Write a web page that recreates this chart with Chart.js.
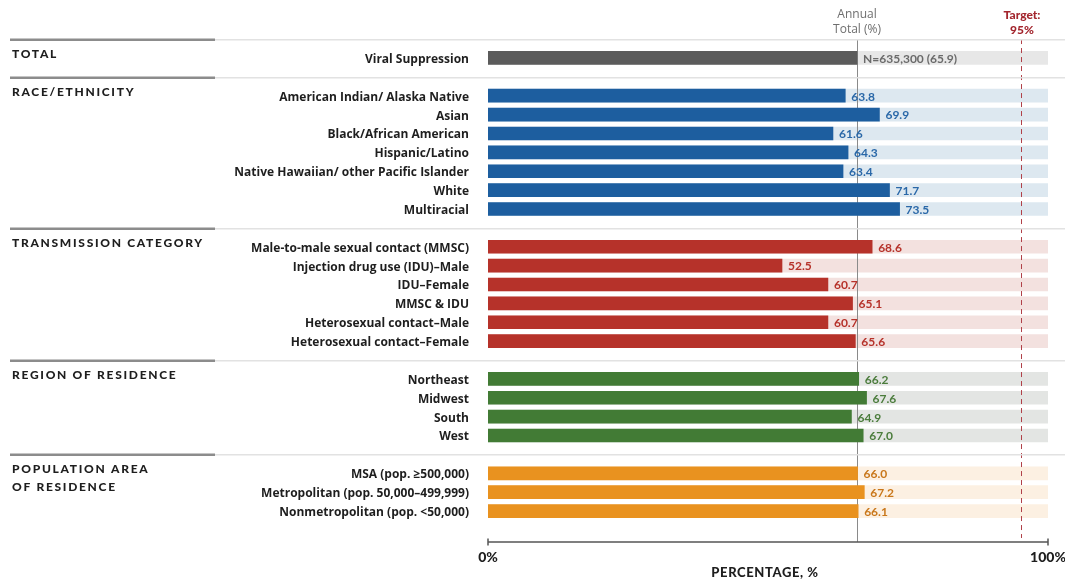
<!DOCTYPE html>
<html>
<head>
<meta charset="utf-8">
<script src="https://cdn.jsdelivr.net/npm/chart.js@4/dist/chart.umd.min.js"></script>
<style>
  html, body { margin: 0; padding: 0; background: #fff; }
  #wrap { width: 1065px; height: 580px; }
</style>
</head>
<body>
<div id="wrap"><canvas id="c" width="1065" height="580"></canvas></div>
<script>
// ---- data ----
const totalLabels = ['Viral Suppression'];
const totalValues = [65.9];
const totalCount = 'N=635,300';

const raceLabels = ['American Indian/ Alaska Native', 'Asian', 'Black/African American', 'Hispanic/Latino',
  'Native Hawaiian/ other Pacific Islander', 'White', 'Multiracial'];
const raceValues = [63.8, 69.9, 61.6, 64.3, 63.4, 71.7, 73.5];

const transmissionLabels = ['Male-to-male sexual contact (MMSC)', 'Injection drug use (IDU)\u2013Male', 'IDU\u2013Female',
  'MMSC & IDU', 'Heterosexual contact\u2013Male', 'Heterosexual contact\u2013Female'];
const transmissionValues = [68.6, 52.5, 60.7, 65.1, 60.7, 65.6];

const regionLabels = ['Northeast', 'Midwest', 'South', 'West'];
const regionValues = [66.2, 67.6, 64.9, 67.0];

const areaLabels = ['MSA (pop. \u2265500,000)', 'Metropolitan (pop. 50,000\u2013499,999)', 'Nonmetropolitan (pop. <50,000)'];
const areaValues = [66.0, 67.2, 66.1];

const groupTitles = [['TOTAL'], ['RACE/ETHNICITY'], ['TRANSMISSION CATEGORY'], ['REGION OF RESIDENCE'], ['POPULATION AREA', 'OF RESIDENCE']];
const annualTotal = 65.9;
const target = 95;
const axisTickLabels = ['0%', '100%'];

// ---- styling per group ----
const groupStyles = [
  { bar: '#5b5b5b', track: '#e7e7e7', text: '#6a6a6a' },
  { bar: '#1d5e9f', track: '#dde8f0', text: '#2a68a8' },
  { bar: '#b6322a', track: '#f3e1df', text: '#b6322a' },
  { bar: '#427b35', track: '#e3e5e3', text: '#4b7c3c' },
  { bar: '#e9921f', track: '#fcf0e2', text: '#c9771a' }
];

// ---- assemble rows (blank rows separate the groups) ----
const groups = [
  [totalLabels, totalValues],
  [raceLabels, raceValues],
  [transmissionLabels, transmissionValues],
  [regionLabels, regionValues],
  [areaLabels, areaValues]
];
const labels = [], values = [], tracks = [], barColors = [], trackColors = [], rowGroup = [];
const groupStart = [], separatorRows = [];
groups.forEach(([ls, vs], g) => {
  if (g > 0) {
    separatorRows.push(labels.length);
    labels.push(''); values.push(null); tracks.push(null);
    barColors.push('rgba(0,0,0,0)'); trackColors.push('rgba(0,0,0,0)'); rowGroup.push(-1);
  }
  groupStart.push(labels.length);
  ls.forEach((l, i) => {
    labels.push(l); values.push(vs[i]); tracks.push(100);
    barColors.push(groupStyles[g].bar); trackColors.push(groupStyles[g].track); rowGroup.push(g);
  });
});

const FONT = 'Lato, "Open Sans", sans-serif';
const LABEL_FONT = '"Open Sans", Lato, sans-serif';

const decorations = {
  id: 'decorations',
  afterDatasetDraw(chart, args) {
    if (args.index !== 0) return;
    const { ctx, scales: { x, y } } = chart;
    const top = y.getPixelForValue(0) - (y.getPixelForValue(1) - y.getPixelForValue(0));
    const ax = x.getPixelForValue(annualTotal);
    const tx = x.getPixelForValue(target);
    ctx.save();
    ctx.strokeStyle = '#8a8a8a';
    ctx.lineWidth = 1;
    ctx.beginPath(); ctx.moveTo(Math.round(ax) + 0.5, top); ctx.lineTo(Math.round(ax) + 0.5, 542); ctx.stroke();
    ctx.strokeStyle = '#b04048';
    ctx.setLineDash([5, 4]);
    ctx.beginPath(); ctx.moveTo(Math.round(tx) + 1.5, top); ctx.lineTo(Math.round(tx) + 1.5, 538); ctx.stroke();
    ctx.restore();
  },
  afterDraw(chart) {
    const { ctx, scales: { x, y } } = chart;
    const step = y.getPixelForValue(1) - y.getPixelForValue(0);
    ctx.save();

    // group separators
    const sepYs = [y.getPixelForValue(0) - step].concat(separatorRows.map(r => y.getPixelForValue(r)));
    sepYs.forEach(sy => {
      const yy = Math.round(sy);
      ctx.fillStyle = '#e2e2e2';
      ctx.fillRect(10, yy, 1055, 1.5);
      ctx.fillStyle = '#8c8c8c';
      ctx.fillRect(10, yy - 0.5, 205, 2.5);
    });

    // group titles
    ctx.fillStyle = '#1e1e1e';
    ctx.font = `900 12px ${FONT}`;
    ctx.letterSpacing = '1.7px';
    ctx.textAlign = 'left';
    ctx.textBaseline = 'middle';
    groupTitles.forEach((lines, g) => {
      const gy = y.getPixelForValue(groupStart[g]) - 4;
      lines.forEach((t, k) => ctx.fillText(t, 12, gy + k * 18));
    });
    ctx.letterSpacing = '0px';

    // value labels
    ctx.font = `bold 12px ${FONT}`;
    values.forEach((v, i) => {
      if (v == null) return;
      const g = rowGroup[i];
      ctx.fillStyle = groupStyles[g].text;
      const px = x.getPixelForValue(v) + 6;
      const py = y.getPixelForValue(i) + 1;
      const txt = g === 0 ? `${totalCount} (${v.toFixed(1)})` : v.toFixed(1);
      ctx.fillText(txt, px, py);
    });

    // column headers
    const ax = x.getPixelForValue(annualTotal);
    const tx = x.getPixelForValue(target) + 2;
    ctx.textAlign = 'center';
    ctx.font = `12px ${LABEL_FONT}`;
    ctx.fillStyle = '#6e6e6e';
    ctx.fillText('Annual', ax, 15);
    ctx.fillText('Total (%)', ax, 30);
    ctx.font = `900 12px ${FONT}`;
    ctx.fillStyle = '#a3262e';
    ctx.fillText('Target:', tx, 15);
    ctx.fillText(`${target}%`, tx, 30);

    // bottom axis
    const x0 = x.getPixelForValue(0), x1 = x.getPixelForValue(100);
    const ay = 542;
    ctx.strokeStyle = '#555';
    ctx.lineWidth = 1.5;
    ctx.beginPath();
    ctx.moveTo(x0, ay); ctx.lineTo(x1, ay);
    ctx.moveTo(x0, ay - 3.5); ctx.lineTo(x0, ay + 3.5);
    ctx.moveTo(x1, ay - 3.5); ctx.lineTo(x1, ay + 3.5);
    ctx.stroke();
    ctx.fillStyle = '#1e1e1e';
    ctx.font = `900 14px ${FONT}`;
    ctx.fillText(axisTickLabels[0], x0, 557);
    ctx.fillText(axisTickLabels[1], x1, 557);
    ctx.font = `900 13px ${FONT}`;
    ctx.letterSpacing = '0.6px';
    ctx.fillText('PERCENTAGE, %', (x0 + x1) / 2 - 3, 573);
    ctx.restore();
  }
};

new Chart(document.getElementById('c'), {
  type: 'bar',
  data: {
    labels,
    datasets: [
      { data: tracks, backgroundColor: trackColors, barThickness: 13, order: 2 },
      { data: values, backgroundColor: barColors, barThickness: 13, order: 1 }
    ]
  },
  options: {
    indexAxis: 'y',
    responsive: false,
    devicePixelRatio: 1,
    animation: false,
    layout: { padding: { top: 48.5, bottom: 59.5, right: 17, left: 0 } },
    plugins: { legend: { display: false }, tooltip: { enabled: false } },
    datasets: { bar: { grouped: false } },
    scales: {
      x: { min: 0, max: 100, display: false },
      y: {
        grid: { display: false },
        border: { display: false },
        ticks: { color: '#1e1e1e', font: { family: LABEL_FONT, size: 12, weight: 'bold' }, padding: 11, autoSkip: false, labelOffset: 1.5 },
        afterFit(scale) { scale.width = 488; }
      }
    }
  },
  plugins: [decorations]
});
</script>
</body>
</html>
